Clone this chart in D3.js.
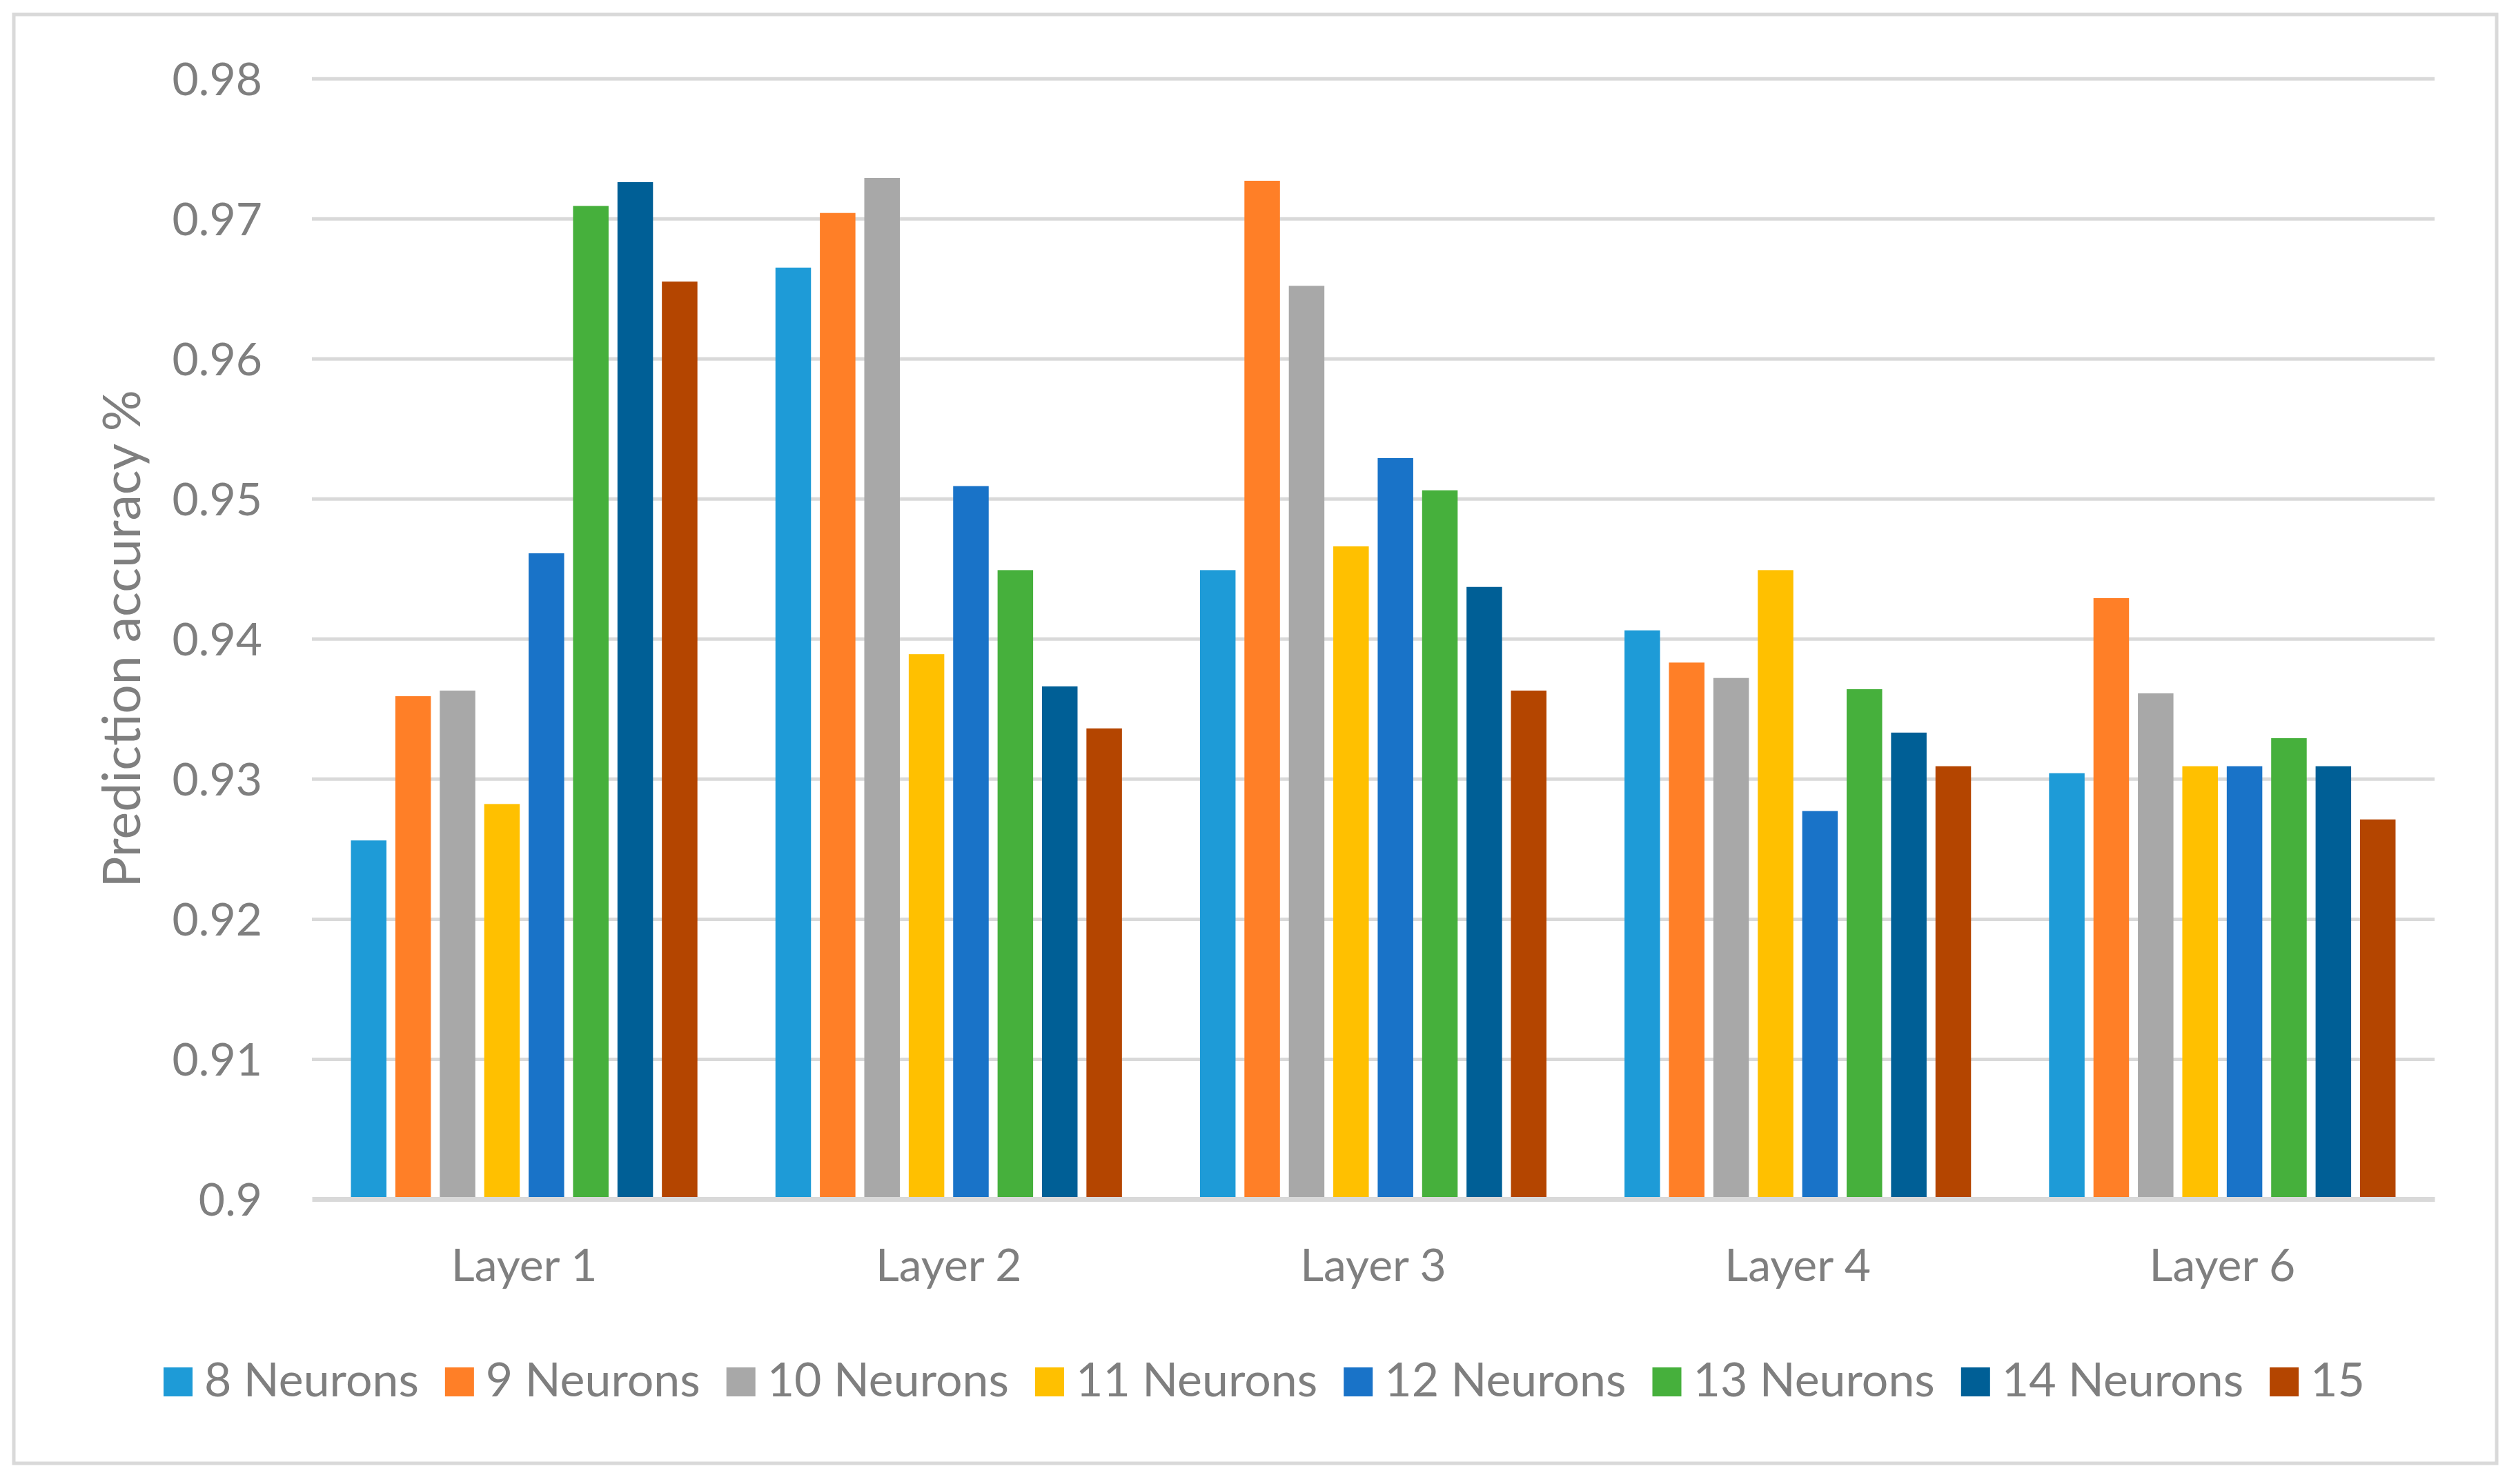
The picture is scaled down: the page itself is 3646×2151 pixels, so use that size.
<!DOCTYPE html>
<html>
<head>
<meta charset="utf-8">
<script src="https://cdn.jsdelivr.net/npm/d3@7"></script>
<style>
  html, body { margin: 0; padding: 0; background: #ffffff; }
  svg { display: block; }
  text { font-family: Lato, "Open Sans", sans-serif; fill: #7f7f7f; }
</style>
</head>
<body>
<svg id="chart" width="3646" height="2151"></svg>
<script>
// ---- data ----
const layers = ["Layer 1", "Layer 2", "Layer 3", "Layer 4", "Layer 6"];
const seriesNames = ["8 Neurons", "9 Neurons", "10 Neurons", "11 Neurons", "12 Neurons", "13 Neurons", "14 Neurons", "15"];
const n8  = [0.9256, 0.9665, 0.9449, 0.9406, 0.9304];
const n9  = [0.9359, 0.9704, 0.9727, 0.9383, 0.9429];
const n10 = [0.9363, 0.9729, 0.9652, 0.9372, 0.9361];
const n11 = [0.9282, 0.9389, 0.9466, 0.9449, 0.9309];
const n12 = [0.9461, 0.9509, 0.9529, 0.9277, 0.9309];
const n13 = [0.9709, 0.9449, 0.9506, 0.9364, 0.9329];
const n14 = [0.9726, 0.9366, 0.9437, 0.9333, 0.9309];
const n15 = [0.9655, 0.9336, 0.9363, 0.9309, 0.9271];
const seriesColors = ["#1e9bd7", "#ff7f27", "#a8a8a8", "#ffc000", "#1973c8", "#46b03c", "#005f96", "#b44500"];
const yTicks = [0.9, 0.91, 0.92, 0.93, 0.94, 0.95, 0.96, 0.97, 0.98];
const yTitle = "Prediction accuracy %";

const seriesValues = [n8, n9, n10, n11, n12, n13, n14, n15];

// ---- layout ----
const W = 3646, H = 2151;
const plot = { left: 452, right: 3528, top: 113.8, bottom: 1737.9 };
const tickFont = 66, titleFont = 75, legendFont = 68;

const svg = d3.select("#chart");
svg.append("rect").attr("width", W).attr("height", H).attr("fill", "#ffffff");
// outer chart border
svg.append("rect")
  .attr("x", 20).attr("y", 21).attr("width", 3618 - 20).attr("height", 2121 - 21)
  .attr("fill", "none").attr("stroke", "#d9d9d9").attr("stroke-width", 5);

const x0 = d3.scaleBand().domain(layers).range([plot.left, plot.right]).padding(0);
const inset = x0.bandwidth() * 0.0919;
const x1 = d3.scaleBand().domain(seriesNames)
  .range([inset, x0.bandwidth() - inset]).paddingInner(0.2).paddingOuter(0);
const y = d3.scaleLinear().domain([0.9, 0.98]).range([plot.bottom, plot.top]);
const color = d3.scaleOrdinal().domain(seriesNames).range(seriesColors);

// gridlines + y tick labels
const yAxis = d3.axisLeft(y).tickValues(yTicks)
  .tickSize(-(plot.right - plot.left)).tickPadding(72)
  .tickFormat(d => d3.format("")(+d.toFixed(2)));
const gy = svg.append("g").attr("transform", `translate(${plot.left},0)`).call(yAxis);
gy.select(".domain").remove();
gy.selectAll(".tick line").attr("stroke", "#d9d9d9").attr("stroke-width", 5)
  .filter(d => d === 0.9).remove();
gy.selectAll(".tick text").attr("font-size", tickFont).attr("fill", "#7f7f7f")
  .attr("font-family", "Lato, sans-serif").attr("dy", "0.36em");

// bars
const gBars = svg.append("g");
layers.forEach((layer, li) => {
  const g = gBars.append("g").attr("transform", `translate(${x0(layer)},0)`);
  seriesNames.forEach((s, si) => {
    const v = seriesValues[si][li];
    g.append("rect")
      .attr("x", x1(s)).attr("width", x1.bandwidth())
      .attr("y", y(v)).attr("height", y(0.9) - y(v))
      .attr("fill", color(s));
  });
});

// category axis (baseline line)
const xAxis = d3.axisBottom(x0).tickSize(0).tickPadding(72);
const gx = svg.append("g").attr("transform", `translate(0,${plot.bottom})`).call(xAxis);
gx.select(".domain").attr("stroke", "#d9d9d9").attr("stroke-width", 7);
gx.selectAll(".tick text").attr("font-size", tickFont).attr("fill", "#7f7f7f")
  .attr("font-family", "Lato, sans-serif");

// y title
svg.append("text")
  .attr("transform", `translate(203,${(plot.top + plot.bottom) / 2}) rotate(-90)`)
  .attr("text-anchor", "middle")
  .attr("font-size", titleFont)
  .text(yTitle);

// legend
const legend = svg.append("g");
const sq = 42, gapTxt = 17, gapItem = 38, legBase = 2024, legCenter = 1832;
const items = seriesNames.map(s => {
  const g = legend.append("g");
  g.append("rect").attr("width", sq).attr("height", sq).attr("y", legBase - sq).attr("fill", color(s));
  const t = g.append("text").attr("x", sq + gapTxt).attr("y", legBase)
    .attr("font-size", legendFont).text(s);
  const w = sq + gapTxt + t.node().getComputedTextLength();
  return { g, w };
});
const total = d3.sum(items, d => d.w) + gapItem * (items.length - 1);
let cx = legCenter - total / 2;
items.forEach(it => {
  it.g.attr("transform", `translate(${cx},0)`);
  cx += it.w + gapItem;
});
</script>
</body>
</html>
